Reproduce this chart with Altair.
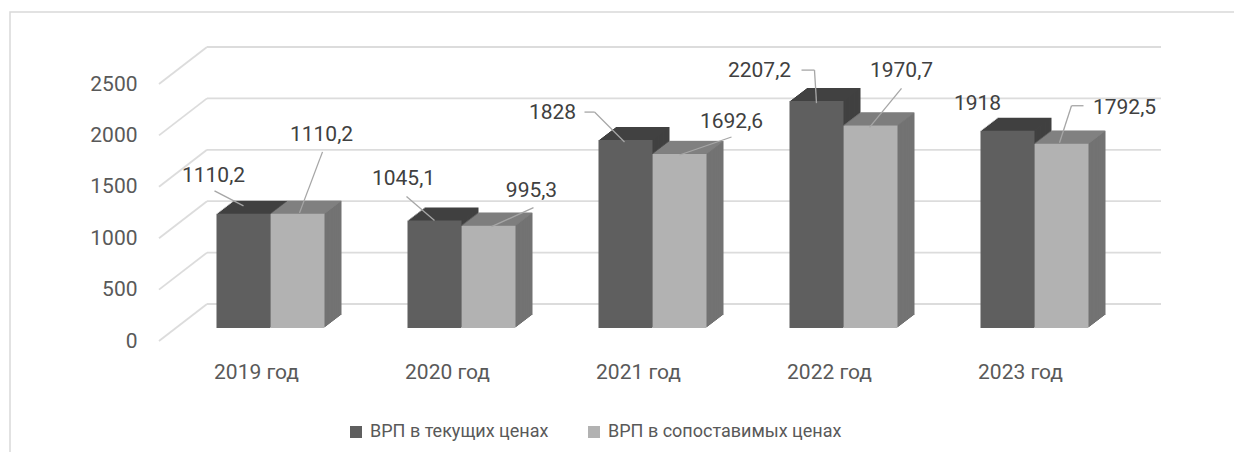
import altair as alt
import pandas as pd

# ---- data ----
years = ["2019 год", "2020 год", "2021 год", "2022 год", "2023 год"]
current = [1110.2, 1045.1, 1828, 2207.2, 1918]
comparable = [1110.2, 995.3, 1692.6, 1970.7, 1792.5]
series_names = ["ВРП в текущих ценах", "ВРП в сопоставимых ценах"]
y_ticks = [0, 500, 1000, 1500, 2000, 2500]

df = pd.DataFrame({
    "year": years + years,
    "series": [series_names[0]] * len(years) + [series_names[1]] * len(years),
    "sidx": [0] * len(years) + [1] * len(years),
    "value": current + comparable,
})
grid = pd.DataFrame({"v": y_ticks})
one = pd.DataFrame({"a": [0]})

# ---- style ----
FONT = "Roboto"
BAR_W = 54
HALF = BAR_W / 2
DEPTH_X, DEPTH_Y = 17, 13
STEPS = 13
SX = DEPTH_X / STEPS
GRID_C = "#dcdcdc"

x_axis = alt.Axis(domain=False, ticks=False, tickSize=0, grid=False, labelAngle=0,
                  labelPadding=33, labelOffset=-14, labelFontSize=21, labelFont=FONT,
                  labelColor="#595959")
y_axis = alt.Axis(values=y_ticks, format="d", domain=False, ticks=False, tickSize=0,
                  grid=False, labelPadding=38, labelOffset=13, labelFontSize=21,
                  labelFont=FONT, labelColor="#595959")
x_scale = alt.Scale(paddingInner=0.435, paddingOuter=0.2175)
y_scale = alt.Scale(domain=[0, 2500], nice=False, zero=True)

X = alt.X("year:N", sort=years, scale=x_scale, axis=x_axis, title=None)
XP = alt.X("year:N", sort=years, scale=x_scale, axis=x_axis, title=None, bandPosition=0.5)
X2P = alt.X2("year:N", bandPosition=0.5)
Y = alt.Y("value:Q", scale=y_scale, axis=y_axis, title=None)
YG = alt.Y("v:Q", scale=y_scale, axis=y_axis, title=None)
C = alt.Color("series:N", scale=alt.Scale(domain=series_names, range=["#5f5f5f", "#b2b2b2"]),
              legend=alt.Legend(orient="none", legendX=172, legendY=352, direction="horizontal",
                                title=None, symbolType="square", symbolSize=144,
                                symbolStrokeWidth=0, labelFontSize=18, labelFont=FONT,
                                labelColor="#595959", labelOffset=5, columnPadding=36,
                                labelLimit=0))

layers = []

# chart-area border
layers.append(alt.Chart(one).mark_rect(fill="transparent", stroke="#d9d9d9", strokeWidth=1.5).encode(
    x=alt.value(-165), x2=alt.value(1200), y=alt.value(-59), y2=alt.value(480)))

# back wall gridlines
layers.append(alt.Chart(grid).mark_rule(color=GRID_C, strokeWidth=1.8, yOffset=-24).encode(
    x=alt.value(32), x2=alt.value(986), y=YG))
# side wall diagonals
layers.append(alt.Chart(grid).mark_rule(color=GRID_C, strokeWidth=1.8, yOffset=13, y2Offset=-24).encode(
    x=alt.value(-16), x2=alt.value(32), y=YG, y2=alt.Y2("v:Q")))

dark = alt.Chart(df).transform_filter("datum.sidx == 0")
light = alt.Chart(df).transform_filter("datum.sidx == 1")

# dark bars: extrusion then front face
for k in range(STEPS, 0, -1):
    layers.append(dark.mark_bar(width=BAR_W, xOffset=-HALF + k * SX, x2Offset=-HALF + k * SX,
                                yOffset=-k, y2Offset=-k, color="#414141").encode(x=X, y=Y))
layers.append(dark.mark_bar(width=BAR_W, xOffset=-HALF).encode(x=X, y=Y, color=C))

# light bars: side extrusion, top face, front face
for k in range(STEPS, 0, -1):
    layers.append(light.mark_bar(width=BAR_W, xOffset=HALF + k * SX, x2Offset=HALF + k * SX,
                                 yOffset=-k, y2Offset=-k, color="#737373").encode(x=X, y=Y))
for k in range(STEPS):
    layers.append(light.mark_tick(orient="horizontal", size=BAR_W, thickness=1.3,
                                  xOffset=HALF + (k + 0.5) * SX, yOffset=-(k + 0.5),
                                  color="#858585").encode(x=XP, y=Y))
layers.append(light.mark_bar(width=BAR_W, xOffset=HALF).encode(x=X, y=Y, color=C))

# data labels with leader lines (offsets relative to bar front-top centre)
label_style = {
    ("2019 год", 0): ((-30, -38), [(-29, -23), (0, -8)]),
    ("2019 год", 1): ((24, -79), [(25, -62), (2, -1)]),
    ("2020 год", 0): ((-31, -42), [(-28, -24), (0, 0)]),
    ("2020 год", 1): ((43, -35), [(45, -18), (3, 1)]),
    ("2021 год", 0): ((-73, -27), [(-41, -28), (-31, -28), (-1, 2)]),
    ("2021 год", 1): ((52, -32), [(52, -17), (0, 1)]),
    ("2022 год", 0): ((-57, -30), [(-15, -31), (-2, -31), (0, 2)]),
    ("2022 год", 1): ((31, -54), [(31, -37), (-1, 2)]),
    ("2023 год", 0): ((-30, -27), []),
    ("2023 год", 1): ((63, -36), [(22, -38), (10, -38), (-2, -1)]),
}
for (yr, si), ((tdx, tdy), segs) in label_style.items():
    cx = -HALF if si == 0 else HALF
    base = alt.Chart(df).transform_filter(f"datum.year == '{yr}' && datum.sidx == {si}")
    for (a0, b0), (a1, b1) in zip(segs[:-1], segs[1:]):
        layers.append(base.mark_rule(color="#a6a6a6", strokeWidth=1.3,
                                     xOffset=cx + a0, x2Offset=cx + a1,
                                     yOffset=b0, y2Offset=b1).encode(
            x=XP, x2=X2P, y=Y, y2=alt.Y2("value:Q")))
    layers.append(base.transform_calculate(label="replace(toString(datum.value), '.', ',')")
                  .mark_text(dx=cx + tdx, dy=tdy, fontSize=21, font=FONT, color="#404040",
                             align="center", baseline="middle")
                  .encode(x=XP, y=Y, text="label:N"))

chart = alt.layer(*layers).properties(
    width=955, height=257,
    autosize=alt.AutoSizeParams(type="none"),
    padding={"left": 167, "top": 63, "right": 104, "bottom": 124},
).configure_view(stroke=None)

chart.save("out.html", embed_options={"renderer": "svg", "actions": False})
